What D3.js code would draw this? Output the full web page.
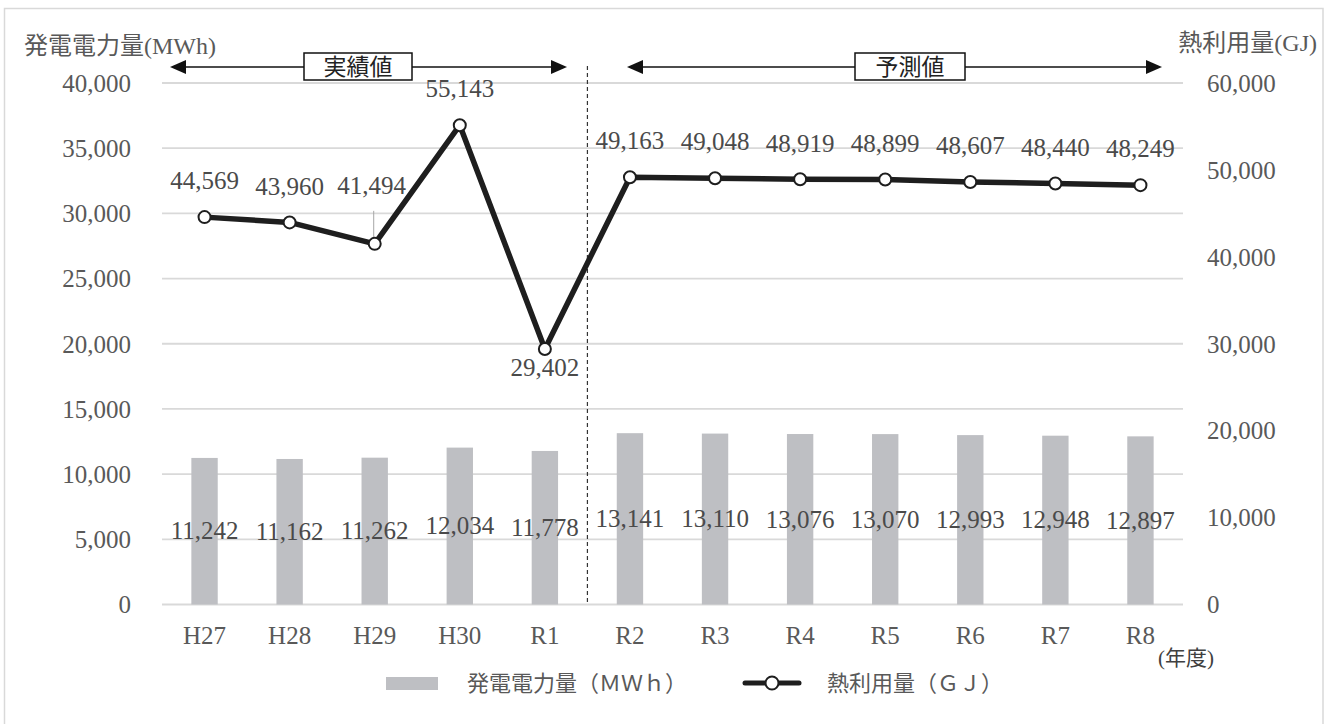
<!DOCTYPE html>
<html><head><meta charset="utf-8">
<script src="https://cdn.jsdelivr.net/npm/d3@7"></script>
<style>
html,body{margin:0;padding:0;background:#fff;}
svg{display:block;}
text{font-family:"Liberation Serif","Noto Sans CJK JP",serif;}
</style></head>
<body>
<svg id="c" width="1333" height="724"></svg>
<script>
const categories = ["H27","H28","H29","H30","R1","R2","R3","R4","R5","R6","R7","R8"];
const powerMWh = [11242,11162,11262,12034,11778,13141,13110,13076,13070,12993,12948,12897];
const heatGJ = [44569,43960,41494,55143,29402,49163,49048,48919,48899,48607,48440,48249];
const leftTicks = [0,5000,10000,15000,20000,25000,30000,35000,40000];
const rightTicks = [0,10000,20000,30000,40000,50000,60000];
const leftTitle = ["発電電力量","(MWh)"];
const rightTitle = ["熱利用量","(GJ)"];
const xUnit = ["(","年度",")"];
const periodLabels = ["実績値","予測値"];
const legendLabels = ["発電電力量（ＭＷｈ）","熱利用量（ＧＪ）"];

(function(){
const svg = d3.select("#c");
const pL = 162, pR = 1183, pT = 83, pB = 604.5;
const textCol = "#595959", gridCol = "#d9d9d9", barCol = "#bebfc3", lineCol = "#1e1e1e";
const fmt = d3.format(",");
const SERIF = '"Liberation Serif",serif', CJK = '"Noto Sans CJK JP",sans-serif';

// frame
svg.append("rect").attr("x",4.5).attr("y",8.5).attr("width",1318.5).attr("height",740)
  .attr("fill","none").attr("stroke","#d9d9d9").attr("stroke-width",1.5);

const x = d3.scaleBand().domain(categories).range([pL,pR]).padding(0);
const cx = c => x(c) + x.bandwidth()/2;
const yL = d3.scaleLinear().domain([0,40000]).range([pB,pT]);
const yR = d3.scaleLinear().domain([0,60000]).range([pB,pT]);

// gridlines
svg.append("g").selectAll("line").data(leftTicks).join("line")
  .attr("x1",pL).attr("x2",pR)
  .attr("y1",d=>yL(d)).attr("y2",d=>yL(d))
  .attr("stroke",gridCol).attr("stroke-width",1.8);

// left axis
const gL = svg.append("g").attr("transform",`translate(${pL},0)`)
  .call(d3.axisLeft(yL).tickValues(leftTicks).tickFormat(fmt).tickSize(0).tickPadding(31));
gL.select(".domain").remove();
gL.selectAll("text").attr("font-size",25).attr("fill",textCol).attr("dy","0.33em")
  .style("font-family",SERIF);

// right axis
const gR = svg.append("g").attr("transform",`translate(${pR},0)`)
  .call(d3.axisRight(yR).tickValues(rightTicks).tickFormat(fmt).tickSize(0).tickPadding(24));
gR.select(".domain").remove();
gR.selectAll("text").attr("font-size",25).attr("fill",textCol).attr("dy","0.33em")
  .style("font-family",SERIF);

// bottom axis
const gB = svg.append("g").attr("transform",`translate(0,${pB})`)
  .call(d3.axisBottom(x).tickSize(0).tickPadding(31));
gB.select(".domain").remove();
gB.selectAll("text").attr("font-size",25).attr("fill",textCol).attr("dy","0.33em")
  .style("font-family",SERIF);

// bars
const barW = x.bandwidth()*0.31;
const data = categories.map((c,i)=>({c, p:powerMWh[i], h:heatGJ[i], i}));
svg.append("g").selectAll("rect").data(data).join("rect")
  .attr("x",d=>cx(d.c)-barW/2).attr("width",barW)
  .attr("y",d=>yL(d.p)).attr("height",d=>yL(0)-yL(d.p))
  .attr("fill",barCol);

// bar labels (centered)
svg.append("g").selectAll("text").data(data).join("text")
  .attr("x",d=>cx(d.c)).attr("y",d=>(yL(d.p)+yL(0))/2).attr("dy","0.33em")
  .attr("text-anchor","middle").attr("font-size",25).attr("fill","#4a4a4a")
  .style("font-family",SERIF).text(d=>fmt(d.p));

// separator dashed line
const sepX = (cx(categories[4])+cx(categories[5]))/2;
svg.append("line").attr("x1",sepX).attr("x2",sepX).attr("y1",66).attr("y2",pB)
  .attr("stroke","#333").attr("stroke-width",1.2).attr("stroke-dasharray","4,3");

// line
const line = d3.line().x(d=>cx(d.c)).y(d=>yR(d.h));
svg.append("path").datum(data).attr("d",line).attr("fill","none")
  .attr("stroke",lineCol).attr("stroke-width",5.5).attr("stroke-linejoin","round");

// line labels
function labelOffset(d){
  if(d.i===4) return 19;
  if(d.i===2) return -58;
  return -36;
}
const lx = d => d.i===2 ? cx(d.c)-3 : cx(d.c);
data.filter(d=>d.i===2).forEach(d=>{
  svg.append("line").attr("x1",cx(d.c)-1).attr("x2",cx(d.c)-1)
    .attr("y1",yR(d.h)-33).attr("y2",yR(d.h)-5)
    .attr("stroke","#a6a6a6").attr("stroke-width",1);
});
svg.append("g").selectAll("circle").data(data).join("circle")
  .attr("cx",d=>cx(d.c)).attr("cy",d=>yR(d.h)).attr("r",6)
  .attr("fill","#fff").attr("stroke",lineCol).attr("stroke-width",2);
svg.append("g").selectAll("text").data(data).join("text")
  .attr("x",lx).attr("y",d=>yR(d.h)+labelOffset(d)).attr("dy","0.33em")
  .attr("text-anchor","middle").attr("font-size",25).attr("fill","#4a4a4a")
  .style("font-family",SERIF).text(d=>fmt(d.h));

// mixed-script text helper
function mixed(xp, yp, anchor, size, col, parts, fams){
  const t = svg.append("text").attr("x",xp).attr("y",yp).attr("dy","0.35em")
    .attr("text-anchor",anchor).attr("font-size",size).attr("fill",col);
  parts.forEach((p,k)=>t.append("tspan").style("font-family",fams[k]).text(p));
  return t;
}
mixed(24,46,"start",24,textCol,leftTitle,[CJK,SERIF]);
mixed(1317,43,"end",24,textCol,rightTitle,[CJK,SERIF]);
mixed(1186,658,"middle",21,"#404040",xUnit,[SERIF,CJK,SERIF]);

// period arrows
function arrow(x1,x2,y,bx1,bx2,label){
  const g = svg.append("g");
  g.append("line").attr("x1",x1+14).attr("x2",x2-14).attr("y1",y).attr("y2",y)
    .attr("stroke","#111").attr("stroke-width",1.5);
  g.append("path").attr("d",`M${x1},${y}L${x1+16},${y-7}L${x1+16},${y+7}Z`).attr("fill","#111");
  g.append("path").attr("d",`M${x2},${y}L${x2-16},${y-7}L${x2-16},${y+7}Z`).attr("fill","#111");
  g.append("rect").attr("x",bx1).attr("y",y-14).attr("width",bx2-bx1).attr("height",27)
    .attr("fill","#fff").attr("stroke","#111").attr("stroke-width",1.5);
  g.append("text").attr("x",(bx1+bx2)/2).attr("y",y).attr("dy","0.35em").attr("text-anchor","middle")
    .attr("font-size",23).attr("fill","#222").style("font-family",CJK).text(label);
}
arrow(170,567,67,304,412,periodLabels[0]);
arrow(627,1162,67,855,965,periodLabels[1]);

// legend
const lg = svg.append("g");
lg.append("rect").attr("x",386).attr("y",677).attr("width",52).attr("height",13).attr("fill",barCol);
lg.append("text").attr("x",467).attr("y",683).attr("dy","0.35em").attr("font-size",22)
  .attr("fill",textCol).style("font-family",CJK).text(legendLabels[0]);
lg.append("line").attr("x1",745).attr("x2",799).attr("y1",683).attr("y2",683)
  .attr("stroke",lineCol).attr("stroke-width",5).attr("stroke-linecap","round");
lg.append("circle").attr("cx",772).attr("cy",683).attr("r",6.5)
  .attr("fill","#fff").attr("stroke",lineCol).attr("stroke-width",2);
lg.append("text").attr("x",827).attr("y",683).attr("dy","0.35em").attr("font-size",22)
  .attr("fill",textCol).style("font-family",CJK).text(legendLabels[1]);
})();
</script>
</body></html>
